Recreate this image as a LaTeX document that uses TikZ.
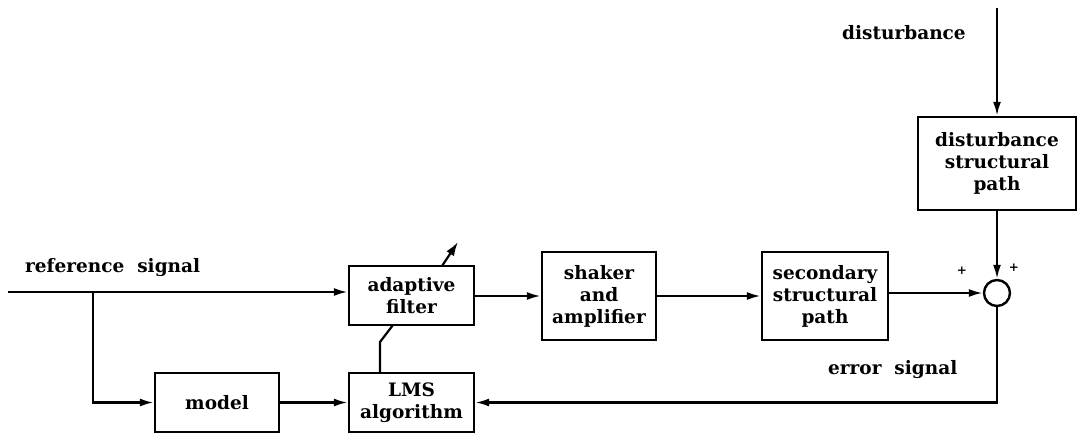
\documentclass[tikz,border=0pt]{standalone}
\usepackage{fontspec}
\setmainfont{DejaVu Serif}
\usetikzlibrary{arrows.meta}
\begin{document}
\begin{tikzpicture}[x=1pt,y=-1pt,
  blk/.style={draw,line width=2.4pt,inner sep=0pt,align=center,font=\bfseries\fontsize{18.5}{22}\selectfont},
  lbl/.style={inner sep=0pt,font=\bfseries\fontsize{18.5}{22}\selectfont},
  wire/.style={line width=2.2pt},
  arr/.style={wire,-{Latex[length=14pt,width=8pt]}}]
\useasboundingbox (0,0) rectangle (1090,434);
\node[blk,minimum width=125pt,minimum height=59pt] (af) at (411.5,295.5) {adaptive\\filter};
\node[blk,minimum width=125pt,minimum height=59pt] (lms) at (411.5,402.5) {LMS\\algorithm};
\node[blk,minimum width=124pt,minimum height=59pt] (mod) at (217,402.5) {model};
\node[blk,minimum width=114pt,minimum height=88pt] (sh) at (599,296) {shaker\\and\\amplifier};
\node[blk,minimum width=126pt,minimum height=88pt] (sec) at (825,296) {secondary\\structural\\path};
\node[blk,minimum width=158pt,minimum height=93pt] (dis) at (997,163.5) {disturbance\\structural\\path};
\node[draw,circle,line width=2.4pt,minimum size=26pt,inner sep=0pt] (sum) at (997,293) {};
\coordinate (in) at (8,292);
\coordinate (br) at (93,292);
\coordinate (dtop) at (997,8);
\coordinate (lmsk) at (380,342);
\coordinate (tipA) at (442,266);
\coordinate (tipB) at (458,242);
\node[lbl,anchor=west] (rs) at (25,268) {reference\ \ signal};
\node[lbl,anchor=west] (dl) at (842,33) {disturbance};
\node[lbl,anchor=west] (es) at (828,370) {error\ \ signal};
\node[lbl,font=\bfseries\fontsize{12}{12}\selectfont] (p1) at (962,271) {+};
\node[lbl,font=\bfseries\fontsize{12}{12}\selectfont] (p2) at (1014,268) {+};
\draw[arr] (in) -- (af.west |- in);
\draw[arr] (br) |- (mod.west);
\draw[arr] (mod.east) -- (lms.west);
\draw[arr] (af.east |- sh.west) -- (sh.west);
\draw[arr] (sh.east) -- (sec.west);
\draw[arr] (sec.east |- sum.west) -- (sum.west);
\draw[arr] (dtop) -- (dis.north);
\draw[arr] (dis.south) -- (sum.north);
\draw[arr] (sum.south) |- (lms.east);
\draw[wire] (lms.north -| lmsk) -- (lmsk) -- (393,325);
\draw[wire,-{Latex[length=14pt,width=9pt]}] (tipA) -- (tipB);
\end{tikzpicture}
\end{document}
